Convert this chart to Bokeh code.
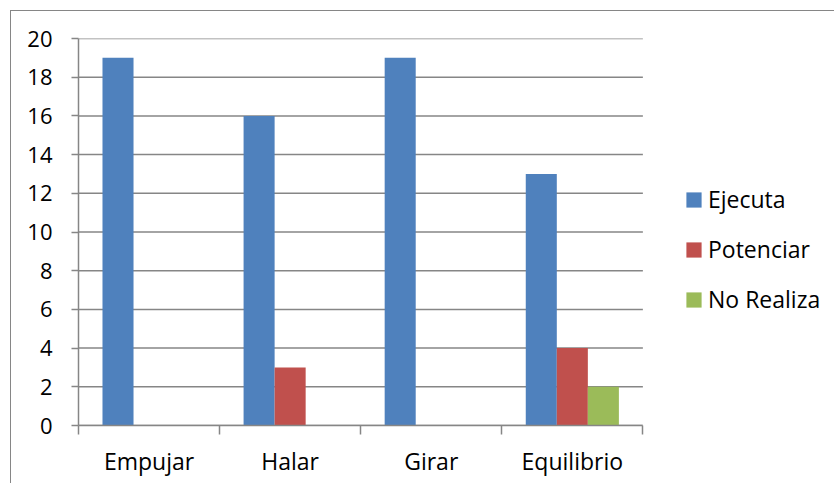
from bokeh.plotting import figure
from bokeh.models import ColumnDataSource, FixedTicker, Legend, LegendItem, Range1d
from bokeh.transform import dodge
from bokeh.embed import file_html
from bokeh.resources import INLINE

categories = ["Empujar", "Halar", "Girar", "Equilibrio"]
ejecuta = [19, 16, 19, 13]
potenciar = [0, 3, 0, 4]
no_realiza = [0, 0, 0, 2]
series_names = ["Ejecuta", "Potenciar", "No Realiza"]
colors = ["#4F81BD", "#C0504D", "#9BBB59"]
y_ticks = list(range(0, 21, 2))

n = len(categories)
xpos = [i + 0.5 for i in range(n)]
source = ColumnDataSource(dict(x=xpos, cat=categories, ejecuta=ejecuta,
                               potenciar=potenciar, no_realiza=no_realiza))

FONT = "Open Sans"
GRAY = "#868686"

FIG_W, FIG_H = 824, 473
LEFT, TOP, BOTTOM = 67.5, 27.5, 59.5
PLOT_AREA_W = 564.0          # width used by the category axis
frame_w = FIG_W - LEFT
x_end = n * frame_w / PLOT_AREA_W

p = figure(width=FIG_W, height=FIG_H, output_backend="svg", toolbar_location=None,
           x_range=Range1d(0, x_end), y_range=Range1d(0, 20),
           min_border_left=int(LEFT), min_border_right=0, min_border_top=int(TOP),
           min_border_bottom=int(BOTTOM))
p.styles = {"border-top": f"1.5px solid {GRAY}", "border-left": f"1.5px solid {GRAY}",
            "margin-left": "10px", "margin-top": "10px"}
p.outline_line_color = None
p.background_fill_color = "white"
p.border_fill_color = "white"
p.xgrid.visible = False
p.ygrid.visible = False

# horizontal gridlines limited to the category area
grid_src = ColumnDataSource(dict(y=y_ticks, x0=[0] * len(y_ticks), x1=[n] * len(y_ticks)))
p.segment(x0="x0", x1="x1", y0="y", y1="y", source=grid_src,
          line_color=GRAY, line_width=1.5)

bw = 0.22
cols = ["ejecuta", "potenciar", "no_realiza"]
offsets = [-bw, 0.0, bw]
renderers = []
for col, off, c in zip(cols, offsets, colors):
    r = p.vbar(x=dodge("x", off), top=col, width=bw, bottom=0, source=source,
               fill_color=c, line_color=None)
    renderers.append(r)

p.yaxis.ticker = FixedTicker(ticks=y_ticks)
p.yaxis.axis_line_color = GRAY
p.yaxis.axis_line_width = 1.5
p.yaxis.major_tick_line_color = GRAY
p.yaxis.major_tick_line_width = 1.5
p.yaxis.major_tick_out = 7
p.yaxis.major_tick_in = 0
p.yaxis.minor_tick_line_color = None
p.yaxis.major_label_text_font = FONT
p.yaxis.major_label_text_font_size = "22px"
p.yaxis.major_label_text_color = "black"
p.yaxis.major_label_standoff = 19

p.xaxis.bounds = (0, n)
p.xaxis.ticker = FixedTicker(ticks=xpos, minor_ticks=list(range(n + 1)))
p.xaxis.major_label_overrides = {x: c for x, c in zip(xpos, categories)}
p.xaxis.axis_line_color = GRAY
p.xaxis.axis_line_width = 1.5
p.xaxis.major_tick_line_color = None
p.xaxis.major_tick_out = 9
p.xaxis.major_tick_in = 0
p.xaxis.minor_tick_line_color = GRAY
p.xaxis.minor_tick_line_width = 1.5
p.xaxis.minor_tick_out = 9
p.xaxis.minor_tick_in = 0
p.xaxis.major_label_text_font = FONT
p.xaxis.major_label_text_font_size = "23px"
p.xaxis.major_label_text_color = "black"
p.xaxis.major_label_standoff = 10

legend = Legend(items=[LegendItem(label=s, renderers=[r]) for s, r in zip(series_names, renderers)],
                location=(606, 110), orientation="vertical")
legend.margin = 0
legend.padding = 0
legend.border_line_color = None
legend.background_fill_alpha = 0
legend.glyph_width = 19
legend.glyph_height = 19
legend.label_standoff = 5
legend.label_text_font = FONT
legend.label_text_font_size = "23px"
legend.label_text_color = "black"
legend.label_height = 20
legend.spacing = 18
p.add_layout(legend, "center")

open("out.html", "w").write(file_html(p, INLINE))
